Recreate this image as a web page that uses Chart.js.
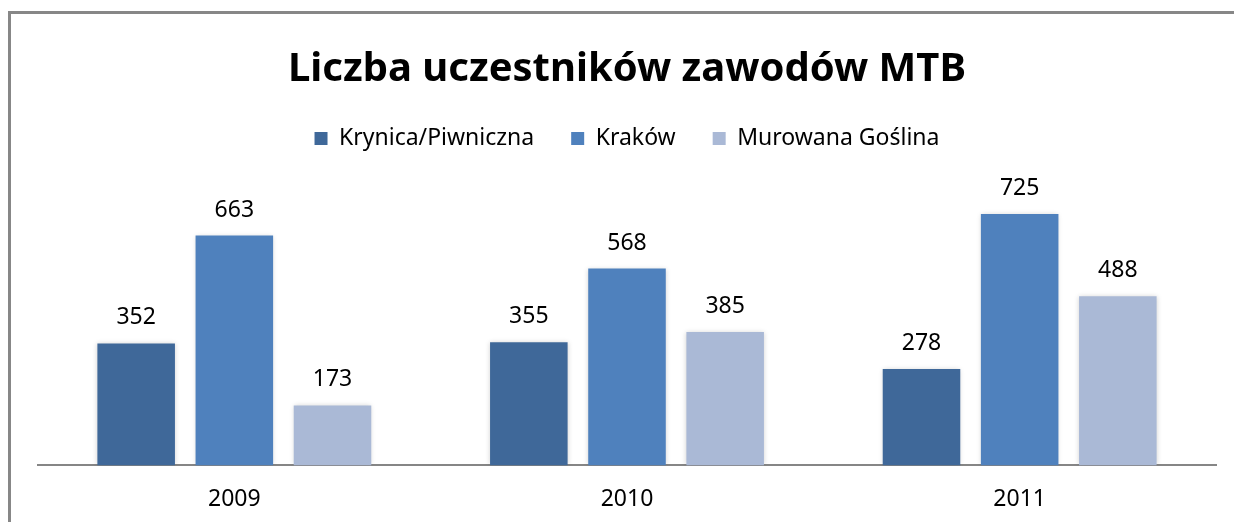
<!DOCTYPE html>
<html>
<head>
<meta charset="utf-8">
<script src="https://cdn.jsdelivr.net/npm/chart.js@4"></script>
<style>
  html, body { margin: 0; padding: 0; background: #fff; }
  #wrap { position: relative; width: 1234px; height: 522px; overflow: hidden; }
  #frame { position: absolute; left: 8px; top: 11px; width: 1300px; height: 600px;
           border-left: 3px solid #878787; border-top: 3px solid #878787; }
  canvas { position: absolute; left: 0; top: 0; }
</style>
</head>
<body>
<div id="wrap">
  <div id="frame"></div>
  <canvas id="chart" width="1234" height="522"></canvas>
</div>
<script>
// chart data
const years = ['2009', '2010', '2011'];
const krynica = [352, 355, 278];
const krakow = [663, 568, 725];
const murowana = [173, 385, 488];

const FONT = "'Noto Sans', 'Open Sans', sans-serif";

// soft shadow round the bars, like the Excel original
const barShadow = {
    id: 'barShadow',
    beforeDatasetsDraw(chart) {
        const ctx = chart.ctx;
        ctx.save();
        ctx.shadowColor = 'rgba(0,0,0,0.18)';
        ctx.shadowBlur = 5;
    },
    afterDatasetsDraw(chart) {
        chart.ctx.restore();
    }
};

// value labels above each bar
const valueLabels = {
    id: 'valueLabels',
    afterDatasetsDraw(chart) {
        const ctx = chart.ctx;
        ctx.save();
        ctx.font = '23px ' + FONT;
        ctx.fillStyle = '#000';
        ctx.textAlign = 'center';
        ctx.textBaseline = 'alphabetic';
        chart.data.datasets.forEach((ds, i) => {
            chart.getDatasetMeta(i).data.forEach((bar, j) => {
                ctx.fillText(ds.data[j], bar.x, bar.y - 19);
            });
        });
        ctx.restore();
    }
};

new Chart(document.getElementById('chart'), {
    type: 'bar',
    data: {
        labels: years,
        datasets: [
            { label: 'Krynica/Piwniczna', data: krynica, backgroundColor: '#3F6899' },
            { label: 'Kraków', data: krakow, backgroundColor: '#4F81BD' },
            { label: 'Murowana Goślina', data: murowana, backgroundColor: '#AAB9D6' }
        ]
    },
    options: {
        responsive: false,
        animation: false,
        categoryPercentage: 0.75,
        barPercentage: 0.79,
        layout: { padding: { left: 38, right: 18, top: 0, bottom: -11 } },
        plugins: {
            title: {
                display: true,
                text: 'Liczba uczestników zawodów MTB',
                color: '#000',
                font: { family: FONT, size: 40, weight: 'bold' },
                padding: { top: 46, bottom: -4 }
            },
            legend: {
                position: 'top',
                labels: {
                    color: '#000',
                    font: { family: FONT, size: 23 },
                    boxWidth: 13,
                    boxHeight: 13,
                    padding: 37
                }
            },
            tooltip: { enabled: false }
        },
        scales: {
            x: {
                grid: { display: false, drawTicks: false },
                border: { display: true, color: '#868686', width: 2 },
                ticks: { color: '#000', font: { family: FONT, size: 23 }, padding: 20 }
            },
            y: {
                display: false,
                min: 0,
                max: 881
            }
        }
    },
    plugins: [barShadow, valueLabels]
});
</script>
</body>
</html>
